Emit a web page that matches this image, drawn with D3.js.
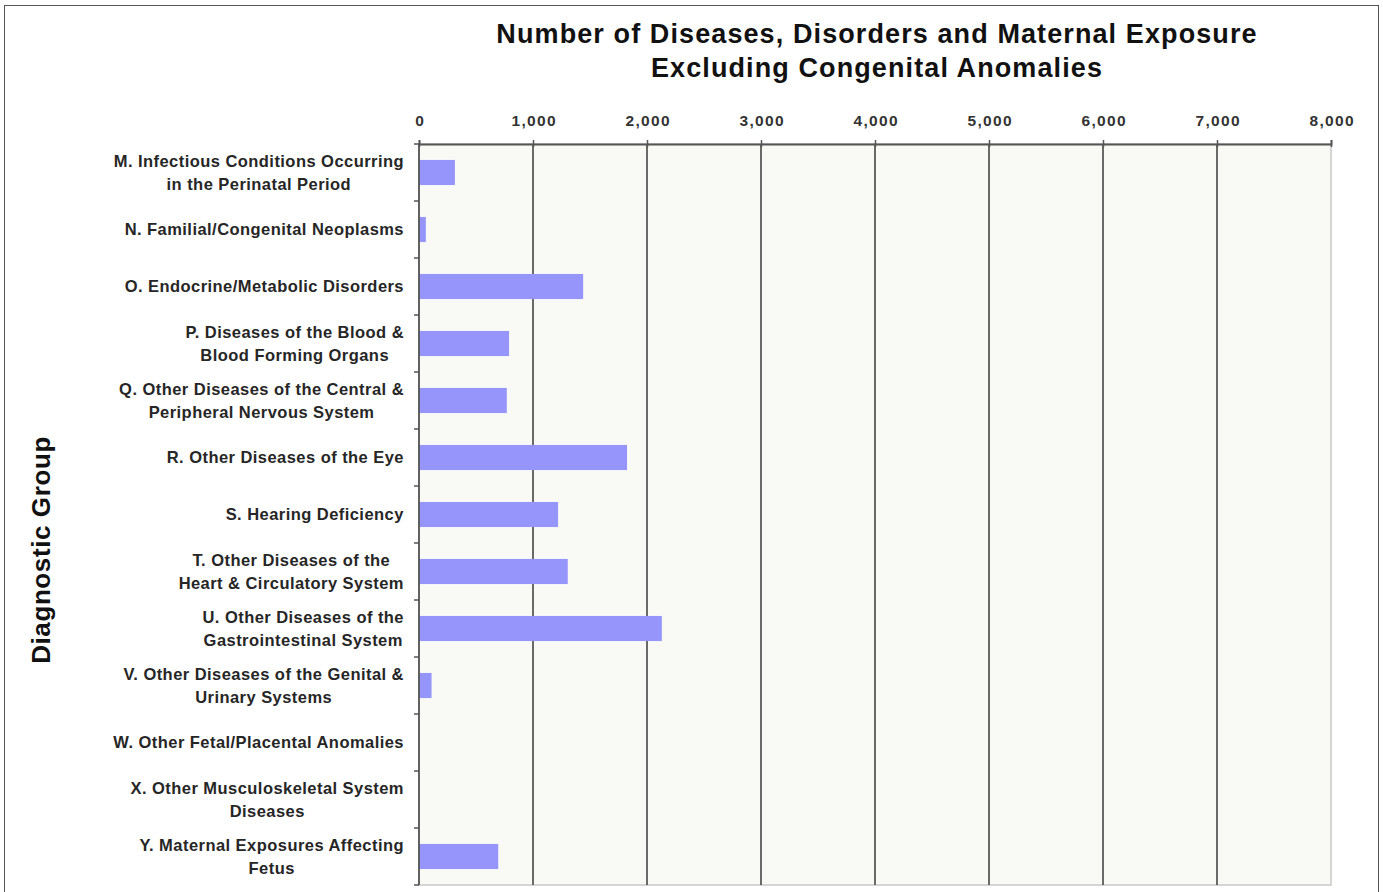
<!DOCTYPE html>
<html>
<head>
<meta charset="utf-8">
<script src="https://cdn.jsdelivr.net/npm/d3@7"></script>
<style>
  body { margin: 0; background: #fff; }
  svg { display: block; font-family: "Liberation Sans", Arial, sans-serif; }
</style>
</head>
<body>
<svg id="chart" width="1383" height="892"></svg>
<script>
var width = 1383,
   height = 892;

// data
var categories = [
   "M. Infectious Conditions Occurring|in the Perinatal Period",
   "N. Familial/Congenital Neoplasms",
   "O. Endocrine/Metabolic Disorders",
   "P. Diseases of the Blood &|Blood Forming Organs",
   "Q. Other Diseases of the Central &|Peripheral Nervous System",
   "R. Other Diseases of the Eye",
   "S. Hearing Deficiency",
   "T. Other Diseases of the|Heart & Circulatory System",
   "U. Other Diseases of the|Gastrointestinal System",
   "V. Other Diseases of the Genital &|Urinary Systems",
   "W. Other Fetal/Placental Anomalies",
   "X. Other Musculoskeletal System|Diseases",
   "Y. Maternal Exposures Affecting|Fetus"
];
var counts = [315, 60, 1440, 790, 770, 1825, 1220, 1305, 2130, 110, 0, 0, 695];
var tickValues = [0, 1000, 2000, 3000, 4000, 5000, 6000, 7000, 8000];

var titleLines = [
   "Number of Diseases, Disorders and Maternal Exposure",
   "Excluding Congenital Anomalies"
];
var yTitle = "Diagnostic Group";

var margin = { left: 419, right: 1331, top: 144, bottom: 885 };

var svg = d3.select("svg#chart");

// outer frame
svg.append("rect")
   .attr("x", 4.5).attr("y", 5.5)
   .attr("width", 1374).attr("height", 900)
   .attr("fill", "none")
   .attr("stroke", "#555")
   .attr("stroke-width", 1);

var x = d3.scaleLinear().domain([0, 8000]).range([margin.left, margin.right]);
var y = d3.scaleBand().domain(categories).range([margin.top, margin.bottom]).paddingInner(0.56).paddingOuter(0.28);
var band = d3.scaleBand().domain(categories).range([margin.top, margin.bottom]);

// plot background
svg.append("rect")
   .attr("x", margin.left).attr("y", margin.top)
   .attr("width", margin.right - margin.left)
   .attr("height", margin.bottom - margin.top)
   .attr("fill", "#f9f9f6")
   .attr("stroke", "#c8c8c8")
   .attr("stroke-width", 1.5);

// gridlines
svg.append("g")
   .selectAll("line")
   .data(tickValues.slice(1, -1))
   .enter()
   .append("line")
   .attr("x1", (d) => x(d)).attr("x2", (d) => x(d))
   .attr("y1", margin.top).attr("y2", margin.bottom)
   .attr("stroke", "#5a5a5a")
   .attr("stroke-width", 1.8);

// bars
svg.append("g")
   .selectAll("rect")
   .data(counts)
   .enter()
   .append("rect")
   .attr("x", x(0))
   .attr("y", (d, i) => y(categories[i]))
   .attr("width", (d) => x(d) - x(0))
   .attr("height", y.bandwidth())
   .attr("fill", "#9595fb");

// top axis
var xAxis = d3.axisTop(x)
   .tickValues(tickValues)
   .tickSize(4)
   .tickPadding(14)
   .tickFormat(d3.format(","));

var gx = svg.append("g")
   .attr("transform", "translate(0," + margin.top + ")")
   .call(xAxis);
gx.select(".domain").attr("stroke", "#555").attr("stroke-width", 1.8);
gx.selectAll(".tick line").attr("stroke", "#555").attr("stroke-width", 1.5).attr("y2", 3).attr("y1", -4);
gx.selectAll(".tick text")
   .attr("fill", "#333")
   .attr("dx", "0.7px")
   .style("font-size", "15.5px")
   .style("font-weight", "bold")
   .style("letter-spacing", "1.3px");

// left axis line + ticks at band edges
svg.append("line")
   .attr("x1", margin.left).attr("x2", margin.left)
   .attr("y1", margin.top).attr("y2", margin.bottom)
   .attr("stroke", "#555").attr("stroke-width", 1.8);

svg.append("g")
   .selectAll("line")
   .data(categories.concat(["end"]))
   .enter()
   .append("line")
   .attr("x1", margin.left - 5).attr("x2", margin.left)
   .attr("y1", (d, i) => margin.top + i * band.bandwidth())
   .attr("y2", (d, i) => margin.top + i * band.bandwidth())
   .attr("stroke", "#555").attr("stroke-width", 1.5);

// category labels: each block centred, its right edge at x = 403
var labels = svg.append("g")
   .selectAll("text")
   .data(categories)
   .enter()
   .append("text")
   .attr("text-anchor", "middle")
   .attr("fill", "#262626")
   .style("font-size", "16.5px")
   .style("font-weight", "bold")
   .style("letter-spacing", "0.45px");

labels.each(function (d) {
   var lines = d.split("|");
   var t = d3.select(this);
   lines.forEach(function (ln, i) {
      t.append("tspan")
         .attr("x", 0)
         .attr("y", (i - (lines.length - 1) / 2) * 22.5)
         .attr("dy", "0.35em")
         .text(ln);
   });
   var w = this.getBBox().width;
   t.attr("transform", "translate(" + (404 - w / 2) + "," + (band(d) + band.bandwidth() / 2) + ")");
});

// y title
svg.append("text")
   .attr("transform", "translate(50,550) rotate(-90)")
   .attr("text-anchor", "middle")
   .attr("fill", "#111")
   .style("font-size", "26px")
   .style("font-weight", "bold")
   .style("letter-spacing", "0.6px")
   .text(yTitle);

// chart title
svg.append("g")
   .selectAll("text")
   .data(titleLines)
   .enter()
   .append("text")
   .attr("x", 877)
   .attr("y", (d, i) => 43 + i * 34)
   .attr("text-anchor", "middle")
   .attr("fill", "#111")
   .style("font-size", "27px")
   .style("font-weight", "bold")
   .style("letter-spacing", "1.1px")
   .text((d) => d);
</script>
</body>
</html>
